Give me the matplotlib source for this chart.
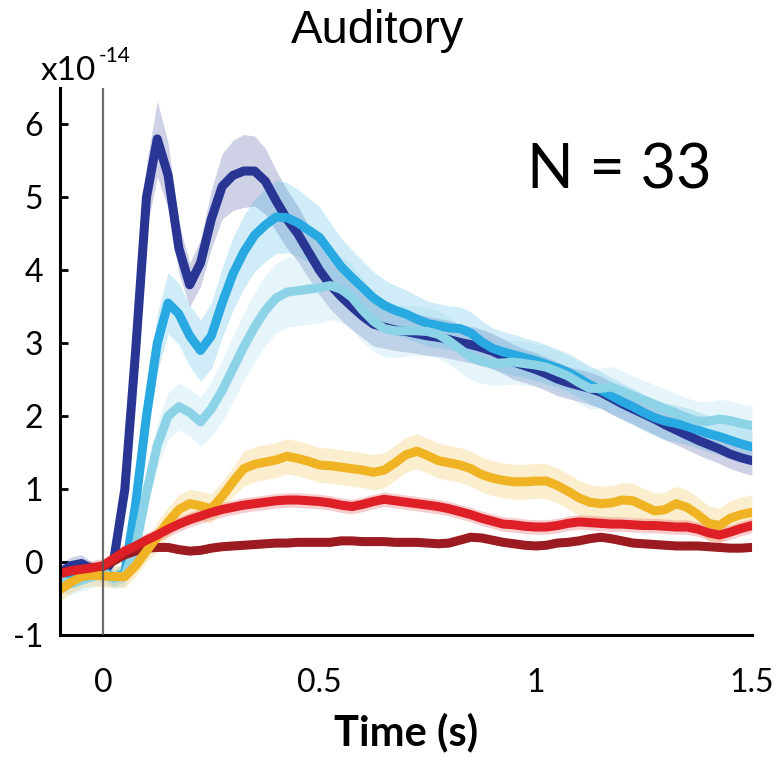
import numpy as np
import matplotlib.pyplot as plt

plt.rcParams['font.family'] = ['Lato', 'DejaVu Sans']
plt.rcParams['axes.unicode_minus'] = False

# time (s)
t = [-0.1, -0.075, -0.05, -0.025, 0.0, 0.025, 0.05, 0.075, 0.1, 0.125,
     0.15, 0.175, 0.2, 0.225, 0.25, 0.275, 0.3, 0.325, 0.35, 0.375,
     0.4, 0.425, 0.45, 0.475, 0.5, 0.525, 0.55, 0.575, 0.6, 0.625,
     0.65, 0.675, 0.7, 0.725, 0.75, 0.775, 0.8, 0.825, 0.85, 0.875,
     0.9, 0.925, 0.95, 0.975, 1.0, 1.025, 1.05, 1.075, 1.1, 1.125,
     1.15, 1.175, 1.2, 1.225, 1.25, 1.275, 1.3, 1.325, 1.35, 1.375,
     1.4, 1.425, 1.45, 1.475, 1.5]

# mean responses (x1e-14)
navy = [-0.15, -0.05, -0.02, -0.1, -0.15, 0.05, 1.0, 2.9, 5.0, 5.8,
        5.3, 4.3, 3.8, 4.1, 4.7, 5.15, 5.3, 5.36, 5.36, 5.22,
        4.95, 4.7, 4.5, 4.25, 4.0, 3.8, 3.64, 3.5, 3.37, 3.26,
        3.22, 3.18, 3.16, 3.13, 3.1, 3.08, 3.05, 3.01, 2.98, 2.94,
        2.89, 2.82, 2.74, 2.69, 2.64, 2.58, 2.51, 2.46, 2.42, 2.38,
        2.33, 2.25, 2.17, 2.1, 2.03, 1.96, 1.88, 1.81, 1.74, 1.67,
        1.61, 1.55, 1.48, 1.43, 1.39]
blue = [-0.2, -0.15, -0.12, -0.12, -0.12, -0.22, -0.15, 0.8, 2.0, 3.0,
        3.55, 3.4, 3.1, 2.9, 3.1, 3.55, 3.95, 4.25, 4.48, 4.62,
        4.73, 4.72, 4.65, 4.55, 4.45, 4.25, 4.05, 3.9, 3.76, 3.62,
        3.52, 3.45, 3.4, 3.33, 3.27, 3.24, 3.21, 3.2, 3.14, 3.02,
        2.93, 2.88, 2.84, 2.8, 2.76, 2.71, 2.66, 2.6, 2.52, 2.43,
        2.36, 2.28, 2.2, 2.13, 2.05, 1.98, 1.93, 1.9, 1.86, 1.81,
        1.76, 1.72, 1.67, 1.62, 1.58]
light = [-0.25, -0.3, -0.25, -0.2, -0.15, -0.22, -0.18, 0.2, 0.95, 1.6,
         2.0, 2.13, 2.05, 1.92, 2.1, 2.35, 2.65, 2.95, 3.22, 3.45,
         3.62, 3.7, 3.72, 3.74, 3.76, 3.79, 3.74, 3.63, 3.45, 3.3,
         3.2, 3.17, 3.17, 3.17, 3.16, 3.12, 3.03, 2.92, 2.81, 2.75,
         2.72, 2.73, 2.74, 2.72, 2.7, 2.67, 2.61, 2.55, 2.46, 2.38,
         2.38, 2.4, 2.34, 2.28, 2.22, 2.16, 2.1, 2.04, 1.98, 1.93,
         1.93, 1.96, 1.94, 1.9, 1.87]
yellow = [-0.38, -0.28, -0.2, -0.18, -0.19, -0.2, -0.2, -0.05, 0.15, 0.35,
          0.55, 0.72, 0.8, 0.77, 0.73, 0.9, 1.1, 1.28, 1.34, 1.37,
          1.4, 1.45, 1.42, 1.38, 1.33, 1.32, 1.3, 1.28, 1.26, 1.23,
          1.26, 1.36, 1.47, 1.52, 1.46, 1.39, 1.36, 1.33, 1.28, 1.2,
          1.15, 1.12, 1.1, 1.1, 1.11, 1.11, 1.05, 0.97, 0.88, 0.82,
          0.8, 0.81, 0.85, 0.84, 0.77, 0.7, 0.72, 0.8, 0.75, 0.65,
          0.53, 0.5, 0.6, 0.65, 0.68]
red = [-0.16, -0.12, -0.1, -0.08, -0.05, 0.05, 0.15, 0.22, 0.3, 0.37,
       0.45, 0.52, 0.58, 0.63, 0.68, 0.72, 0.75, 0.78, 0.8, 0.82,
       0.84, 0.85, 0.85, 0.84, 0.83, 0.81, 0.78, 0.76, 0.79, 0.83,
       0.86, 0.84, 0.82, 0.8, 0.78, 0.76, 0.73, 0.69, 0.65, 0.6,
       0.56, 0.52, 0.51, 0.49, 0.48, 0.48, 0.5, 0.53, 0.55, 0.54,
       0.53, 0.52, 0.52, 0.51, 0.5, 0.5, 0.49, 0.48, 0.48, 0.45,
       0.4, 0.37, 0.41, 0.46, 0.5]
darkred = [-0.15, -0.12, -0.1, -0.08, -0.06, 0.02, 0.1, 0.15, 0.19, 0.2,
           0.2, 0.17, 0.15, 0.16, 0.19, 0.21, 0.22, 0.23, 0.24, 0.25,
           0.26, 0.26, 0.27, 0.27, 0.27, 0.27, 0.29, 0.29, 0.28, 0.28,
           0.28, 0.27, 0.27, 0.27, 0.26, 0.25, 0.26, 0.3, 0.34, 0.33,
           0.3, 0.27, 0.25, 0.23, 0.22, 0.23, 0.26, 0.27, 0.29, 0.32,
           0.34, 0.32, 0.29, 0.26, 0.25, 0.24, 0.23, 0.22, 0.22, 0.22,
           0.21, 0.2, 0.19, 0.19, 0.2]

# standard errors
navy_se = [0.12, 0.12, 0.12, 0.1, 0.1, 0.1, 0.2, 0.35, 0.45, 0.52,
           0.45, 0.35, 0.3, 0.32, 0.4, 0.45, 0.48, 0.5, 0.48, 0.45,
           0.42, 0.4, 0.38, 0.36, 0.34, 0.33, 0.32, 0.31, 0.3, 0.3,
           0.29, 0.28, 0.28, 0.27, 0.27, 0.26, 0.26, 0.25, 0.25, 0.25,
           0.24, 0.24, 0.24, 0.23, 0.23, 0.23, 0.23, 0.22, 0.22, 0.22,
           0.22, 0.22, 0.21, 0.21, 0.21, 0.21, 0.21, 0.2, 0.2, 0.2,
           0.2, 0.2, 0.2, 0.2, 0.2]
blue_se = [0.12, 0.12, 0.12, 0.12, 0.12, 0.12, 0.12, 0.25, 0.35, 0.4,
           0.42, 0.42, 0.42, 0.42, 0.45, 0.48, 0.5, 0.5, 0.5, 0.5,
           0.5, 0.48, 0.46, 0.44, 0.42, 0.4, 0.39, 0.38, 0.37, 0.36,
           0.35, 0.34, 0.33, 0.32, 0.31, 0.3, 0.3, 0.3, 0.29, 0.29,
           0.28, 0.28, 0.28, 0.27, 0.27, 0.27, 0.26, 0.26, 0.26, 0.26,
           0.25, 0.25, 0.25, 0.25, 0.25, 0.25, 0.25, 0.25, 0.25, 0.25,
           0.25, 0.25, 0.25, 0.25, 0.25]
light_se = [0.15, 0.15, 0.15, 0.15, 0.15, 0.15, 0.15, 0.2, 0.25, 0.3,
            0.32, 0.32, 0.32, 0.34, 0.38, 0.42, 0.45, 0.46, 0.48, 0.48,
            0.48, 0.48, 0.48, 0.48, 0.48, 0.47, 0.46, 0.45, 0.43, 0.41,
            0.39, 0.37, 0.35, 0.34, 0.33, 0.32, 0.32, 0.31, 0.31, 0.3,
            0.3, 0.3, 0.3, 0.3, 0.29, 0.29, 0.29, 0.28, 0.28, 0.28,
            0.28, 0.28, 0.28, 0.27, 0.27, 0.27, 0.27, 0.27, 0.27, 0.27,
            0.27, 0.27, 0.27, 0.27, 0.27]
yellow_se = [0.15] * 9 + [0.2] * 8 + [0.24] * 48
red_se = [0.1] * 65
darkred_se = [0.05] * 65

series = [
    (navy, navy_se, '#283593'),
    (blue, blue_se, '#29a9e1'),
    (light, light_se, '#8dd3e7'),
    (darkred, darkred_se, '#9c1b21'),
    (yellow, yellow_se, '#f0b323'),
    (red, red_se, '#de1f26'),
]

fig = plt.figure(figsize=(7.8, 7.62), dpi=100)
ax = fig.add_axes([0.0769, 0.1667, 0.887, 0.718])

for m, se, c in series:
    m = np.array(m)
    se = np.array(se)
    ax.fill_between(t, m - se, m + se, color=c, alpha=0.22, lw=0)
for m, se, c in series:
    ax.plot(t, m, color=c, lw=6.5, solid_capstyle='round', solid_joinstyle='round')

ax.axvline(0, color='#555555', lw=1.6, zorder=5, alpha=0.85)

ax.set_xlim(-0.1, 1.5)
ax.set_ylim(-1, 6.5)
ax.set_xticks([0, 0.5, 1, 1.5])
ax.set_xticklabels(['0', '0.5', '1', '1.5'])
ax.set_yticks([-1, 0, 1, 2, 3, 4, 5, 6])
ax.tick_params(axis='x', length=0, pad=24, labelsize=23)
ax.tick_params(axis='y', direction='in', length=6, width=2, pad=12, labelsize=23)
for s in ['top', 'right']:
    ax.spines[s].set_visible(False)
for s in ['left', 'bottom']:
    ax.spines[s].set_linewidth(2.2)

ax.set_xlabel('Time (s)', fontsize=30, fontweight='bold', labelpad=10)
ax.text(0.98, 5.12, 'N = 33', fontsize=44, va='baseline')

fig.text(0.484, 0.944, 'Auditory', fontsize=34, ha='center', va='baseline',
         family='Liberation Sans')
fig.text(0.052, 0.895, 'x10', fontsize=24, va='baseline')
fig.text(0.127, 0.919, '-14', fontsize=15, va='baseline')

fig.savefig('out.png', dpi=100)
